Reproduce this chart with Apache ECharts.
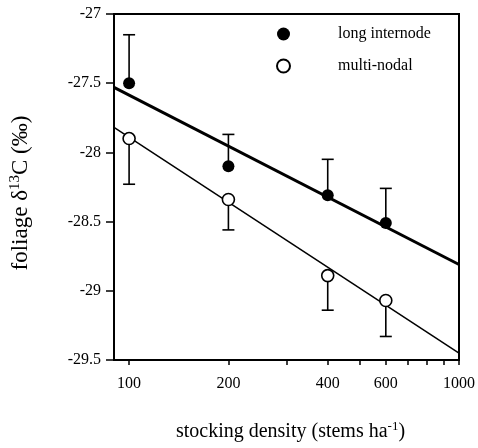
<!DOCTYPE html>
<html>
<head>
<meta charset="utf-8">
<script src="https://cdn.jsdelivr.net/npm/echarts@6/dist/echarts.min.js"></script>
<style>
html,body{margin:0;padding:0;background:#fff;}
#c{width:478px;height:448px;}
</style>
</head>
<body>
<div id="c"></div>
<script>
// ---- data ----
var densities = [100, 200, 400, 600];
var longMean = [-27.50, -28.10, -28.31, -28.51];
var longErrTop = [-27.15, -27.87, -28.05, -28.26];
var multiMean = [-27.90, -28.34, -28.89, -29.07];
var multiErrBottom = [-28.23, -28.56, -29.14, -29.33];
// regression lines (end points)
var fitX = [90, 1000];
var longFitY = [-27.53, -28.81];
var multiFitY = [-27.82, -29.45];
// axis ticks / labels
var xLabelValues = [100, 200, 400, 600, 1000];
var xTickValues = [100, 200, 300, 400, 500, 600, 700, 800, 900, 1000];
var seriesNames = ['long internode', 'multi-nodal'];

var FONT = 'Liberation Serif';

function pairs(xs, ys) { return xs.map(function (x, i) { return [x, ys[i]]; }); }
function errData(xs, ys, es) { return xs.map(function (x, i) { return [x, ys[i], es[i]]; }); }

function renderErr(params, api) {
  var p = api.coord([api.value(0), api.value(1)]);
  var e = api.coord([api.value(0), api.value(2)]);
  var hw = 6;
  return {
    type: 'group',
    children: [
      { type: 'line', shape: { x1: p[0], y1: p[1], x2: e[0], y2: e[1] }, style: { stroke: '#000', lineWidth: 1.6 } },
      { type: 'line', shape: { x1: e[0] - hw, y1: e[1], x2: e[0] + hw, y2: e[1] }, style: { stroke: '#000', lineWidth: 1.6 } }
    ]
  };
}

var chart = echarts.init(document.getElementById('c'), null, { renderer: 'canvas' });
chart.setOption({
  animation: false,
  backgroundColor: '#fff',
  textStyle: { fontFamily: FONT, color: '#000' },
  grid: {
    left: 114, top: 14, right: 17, bottom: 88,
    show: true, borderColor: '#000', borderWidth: 2, backgroundColor: 'transparent'
  },
  legend: {
    data: seriesNames,
    orient: 'vertical',
    left: 271, top: 21,
    itemWidth: 13, itemHeight: 13, itemGap: 16,
    selectedMode: false,
    textStyle: { fontFamily: FONT, fontSize: 16, color: '#000', padding: [0, 0, 0, 43] }
  },
  xAxis: {
    type: 'log', logBase: 10, min: 90, max: 1000,
    name: 'stocking density (stems ha{sup|-1})',
    nameLocation: 'middle', nameGap: 60,
    nameTextStyle: {
      fontFamily: FONT, fontSize: 20, color: '#000', padding: [0, 0, 0, 8],
      rich: { sup: { fontFamily: FONT, fontSize: 13, verticalAlign: 'top', padding: [0, 0, 11, 0], color: '#000' } }
    },
    axisLine: { show: true, onZero: false, lineStyle: { color: '#000', width: 2 } },
    axisTick: { show: true, inside: false, length: 5, lineStyle: { color: '#000', width: 1.5 }, customValues: xTickValues },
    minorTick: { show: false },
    axisLabel: {
      show: true, fontFamily: FONT, fontSize: 16, color: '#000', margin: 16,
      customValues: xLabelValues,
      formatter: function (v) { return String(Math.round(v)); }
    },
    splitLine: { show: false }
  },
  yAxis: {
    type: 'value', min: -29.5, max: -27, interval: 0.5,
    name: 'foliage \u03b4{sup|13}C (\u2030)',
    nameLocation: 'middle', nameGap: 81, nameRotate: 90,
    nameTextStyle: {
      fontFamily: FONT, fontSize: 23, color: '#000', padding: [0, 12, 0, 0],
      rich: { sup: { fontFamily: FONT, fontSize: 15, verticalAlign: 'top', padding: [0, 0, 10, 0], color: '#000' } }
    },
    axisLine: { show: true, onZero: false, lineStyle: { color: '#000', width: 2 } },
    axisTick: { show: true, inside: false, length: 8, lineStyle: { color: '#000', width: 1.5 } },
    axisLabel: { fontFamily: FONT, fontSize: 16, color: '#000', margin: 13 },
    splitLine: { show: false }
  },
  series: [
    {
      type: 'line', data: pairs(fitX, longFitY), symbol: 'none', silent: true,
      lineStyle: { color: '#000', width: 3 }, z: 2
    },
    {
      type: 'line', data: pairs(fitX, multiFitY), symbol: 'none', silent: true,
      lineStyle: { color: '#000', width: 1.5 }, z: 2
    },
    {
      type: 'custom', data: errData(densities, longMean, longErrTop), renderItem: renderErr, z: 3, silent: true
    },
    {
      type: 'custom', data: errData(densities, multiMean, multiErrBottom), renderItem: renderErr, z: 3, silent: true
    },
    {
      name: seriesNames[0], type: 'scatter', data: pairs(densities, longMean),
      symbol: 'circle', symbolSize: 12,
      itemStyle: { color: '#000', borderColor: '#000', borderWidth: 0, opacity: 1 }, z: 5
    },
    {
      name: seriesNames[1], type: 'scatter', data: pairs(densities, multiMean),
      symbol: 'circle', symbolSize: 12,
      itemStyle: { color: '#fff', borderColor: '#000', borderWidth: 1.6, opacity: 1 }, z: 5
    }
  ]
});
</script>
</body>
</html>
